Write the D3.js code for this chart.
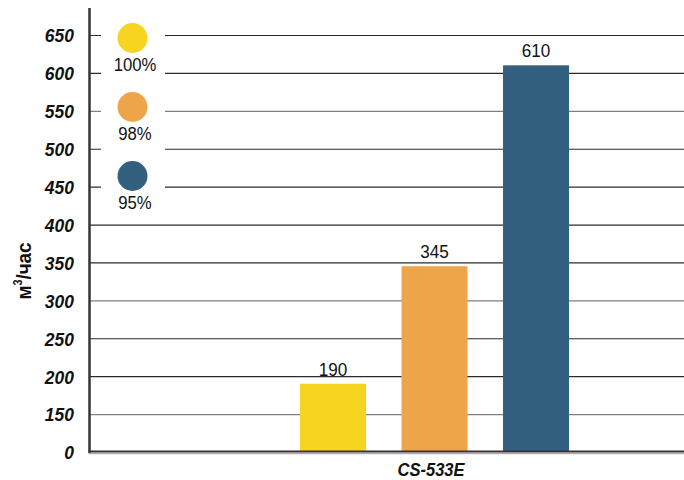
<!DOCTYPE html>
<html><head><meta charset="utf-8">
<script src="https://cdn.jsdelivr.net/npm/d3@7"></script>
<style>
html,body{margin:0;padding:0;background:#fff;}
svg{display:block;font-family:"Liberation Sans",Arial,sans-serif;}
</style></head>
<body><svg id="chart" width="684" height="480"></svg>
<script>
const categories = ["100%", "98%", "95%"];
const values = [190, 345, 610];
const groupLabel = "CS-533E";
const tickValues = [100, 150, 200, 250, 300, 350, 400, 450, 500, 550, 600, 650];
const tickLabels = ["0", "150", "200", "250", "300", "350", "400", "450", "500", "550", "600", "650"];
const colors = ["#F5D520", "#EEA54A", "#33607F"];

const svg = d3.select("#chart");
const y = d3.scaleLinear().domain([100, 650]).range([452, 35]);
const x = d3.scaleBand().domain(categories).range([300, 569]).paddingInner(0.35).paddingOuter(0);
const axisX = 89.5, rightX = 684;
const grayTicks = new Set([150, 300, 550]);

// gridlines
svg.append("g").selectAll("line").data(tickValues.filter(v => v !== 100)).join("line")
  .attr("x1", axisX).attr("x2", rightX)
  .attr("y1", d => y(d) + 0.5).attr("y2", d => y(d) + 0.5)
  .attr("stroke", d => grayTicks.has(d) ? "#7f7f7f" : "#2a2a2a")
  .attr("stroke-width", 1.2);

// white area behind legend
svg.append("rect").attr("x", 101).attr("y", 18).attr("width", 64).attr("height", 190).attr("fill", "#fff");

// y axis labels via d3 axis
const yAxis = d3.axisLeft(y).tickValues(tickValues)
  .tickFormat((d, i) => tickLabels[i]).tickSize(0).tickPadding(0);
const gy = svg.append("g").attr("transform", "translate(74,0)").call(yAxis);
gy.select(".domain").remove();
gy.selectAll(".tick text")
  .attr("font-family", "'Liberation Sans', Arial, sans-serif")
  .attr("font-size", 19).attr("font-weight", "bold").attr("font-style", "italic")
  .attr("fill", "#111").attr("x", 0).attr("dy", "0.36em")
  .attr("transform", "scale(0.92,1)");

// bars
svg.append("g").selectAll("rect").data(values).join("rect")
  .attr("x", (d, i) => x(categories[i]))
  .attr("width", x.bandwidth())
  .attr("y", d => y(d))
  .attr("height", d => y(100) - y(d))
  .attr("fill", (d, i) => colors[i]);

// value labels
svg.append("g").selectAll("g").data(values).join("g")
  .attr("transform", (d, i) => `translate(${x(categories[i]) + x.bandwidth() / 2},${y(d) - 8}) scale(0.9,1)`)
  .append("text")
  .attr("text-anchor", "middle")
  .attr("font-size", 19).attr("fill", "#111")
  .text(d => d);

// y axis line
svg.append("line").attr("x1", axisX).attr("x2", axisX).attr("y1", 8).attr("y2", 453)
  .attr("stroke", "#3a3236").attr("stroke-width", 2.5);

// baseline
svg.append("line").attr("x1", axisX - 1).attr("x2", rightX).attr("y1", 453.5).attr("y2", 453.5)
  .attr("stroke", "#b3abb0").attr("stroke-width", 1.5);
svg.append("line").attr("x1", axisX - 1).attr("x2", rightX).attr("y1", 451.5).attr("y2", 451.5)
  .attr("stroke", "#3a3236").attr("stroke-width", 2.2);

// x category label
svg.append("g").attr("transform", "translate(431,476) scale(0.92,1)")
  .append("text").attr("text-anchor", "middle").attr("font-size", 18)
  .attr("font-weight", "bold").attr("font-style", "italic").attr("fill", "#111")
  .text(groupLabel);

// y axis title
const yt = svg.append("text").attr("transform", "translate(31,271) rotate(-90) scale(0.9,1)")
  .attr("text-anchor", "middle").attr("font-size", 21).attr("font-weight", "bold").attr("fill", "#111");
yt.append("tspan").text("м");
yt.append("tspan").attr("font-size", 12).attr("dy", "-0.75em").text("3");
yt.append("tspan").attr("dy", "0.43em").text("/час");

// legend
const leg = svg.append("g").selectAll("g").data(categories).join("g")
  .attr("transform", (d, i) => `translate(0,${i * 69})`);
leg.append("circle").attr("cx", 132.5).attr("cy", 38).attr("r", 15)
  .attr("fill", (d, i) => colors[i]);
leg.append("g").attr("transform", "translate(135,71) scale(0.88,1)")
  .append("text").attr("text-anchor", "middle")
  .attr("font-size", 19).attr("fill", "#111").text(d => d);
</script>
</body></html>
